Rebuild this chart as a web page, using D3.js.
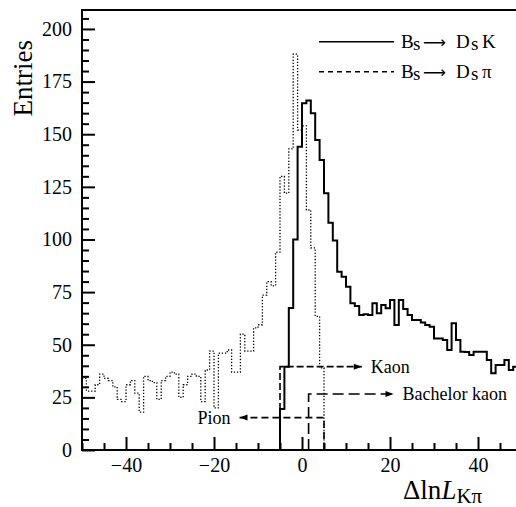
<!DOCTYPE html>
<html>
<head>
<meta charset="utf-8">
<script src="https://cdn.jsdelivr.net/npm/d3@7"></script>
<style>
  body { margin: 0; background: #fff; }
  svg text { font-family: "Liberation Serif", "Times New Roman", serif; fill: #000; }
</style>
</head>
<body>
<div id="my_dataviz"></div>
<script>
// bin width is 1 unit, each array starts at its first lower bin edge
var dsKStart = -5;
var dsKCounts = [19.5, 39.6, 67.4, 100, 144, 164.7, 166, 160, 147.3, 137.8,
  122, 108, 99.5, 84.7, 82.3, 77.6, 69.7, 68.4, 64.1, 64.5,
  64.1, 69.7, 64.9, 68.9, 67.3, 71.3, 59.4, 71.3, 67, 64.1,
  61.8, 61.8, 60.6, 59.4, 58.6, 53, 53, 52.3, 47.5, 60.2,
  52.3, 46.7, 46.5, 45.1, 46.7, 46.7, 46.7, 42.8, 36.4, 40.4,
  40.4, 42.8, 38, 39.6, 37];

var dsPiStart = -50;
var dsPiCounts = [34, 28, 28, 31, 36, 34, 33, 30, 24, 23,
  31, 33, 27, 18, 35, 33, 32, 24, 33, 35,
  37, 36, 25, 31, 35, 36, 35, 23, 38, 47,
  20, 46, 46, 47.5, 37, 37, 55, 47, 47, 58,
  59.5, 73.6, 80, 78, 94, 130, 122, 143, 188, 152,
  154, 114, 96, 63.5, 39];

var xMajor = [-40, -20, 0, 20, 40];
var yMajor = [0, 25, 50, 75, 100, 125, 150, 175, 200];

// selection cuts: where the cut sits, the level of the arrow, where the arrow ends
var cuts = [
  {label: "Kaon", cut: -5, level: 39.6, end: 13.6, dash: "7,3", dir: 1},
  {label: "Bachelor kaon", cut: 1.5, level: 26.6, end: 20.8, dash: "11,5", dir: 1},
  {label: "Pion", cut: 5, level: 15.4, end: -14.2, dash: "7,4", dir: -1}
];

var margin = {top: 10, left: 82, bottom: 57},
    width = 440,
    height = 507 - margin.top - margin.bottom;

var svg = d3.select("#my_dataviz")
  .append("svg")
    .attr("width", 516)
    .attr("height", 507);

var x = d3.scaleLinear().domain([-50, 50]).range([margin.left, margin.left + width]);
var y = d3.scaleLinear().domain([0, 209]).range([margin.top + height, margin.top]);

svg.append("clipPath").attr("id", "plotclip")
  .append("rect")
    .attr("x", margin.left).attr("y", margin.top)
    .attr("width", width).attr("height", height);

var plot = svg.append("g").attr("clip-path", "url(#plotclip)");

// turn counts into step points
function stepPoints(start, counts, closeRight) {
  var pts = [[start, 0]];
  counts.forEach(function(c, i) { pts.push([start + i, c]); });
  pts.push([start + counts.length, counts[counts.length - 1]]);
  if (closeRight) pts.push([start + counts.length, 0]);
  return pts;
}

var line = d3.line()
  .x(function(d) { return x(d[0]); })
  .y(function(d) { return y(d[1]); })
  .curve(d3.curveStepAfter);

// Ds pi, dotted
plot.append("path")
  .datum(stepPoints(dsPiStart, dsPiCounts, true).slice(1))
  .attr("d", line)
  .attr("fill", "none")
  .attr("stroke", "#000")
  .attr("stroke-width", 1.3)
  .attr("stroke-dasharray", "1.3,1.8");

// Ds K, solid
plot.append("path")
  .datum(stepPoints(dsKStart, dsKCounts, false))
  .attr("d", line)
  .attr("fill", "none")
  .attr("stroke", "#000")
  .attr("stroke-width", 2);

// cut arrows
cuts.forEach(function(c) {
  var g = plot.append("g");
  g.append("path")
    .attr("d", "M" + x(c.cut) + "," + y(0) + "V" + y(c.level) + "H" + x(c.end))
    .attr("fill", "none")
    .attr("stroke", "#000")
    .attr("stroke-width", 1.6)
    .attr("stroke-dasharray", c.dash);
  var tip = x(c.end);
  g.append("path")
    .attr("d", "M" + tip + "," + y(c.level) + "l" + (-8 * c.dir) + ",-3v6z")
    .attr("fill", "#000");
  g.append("text")
    .attr("x", tip + 9 * c.dir)
    .attr("y", y(c.level))
    .attr("dy", "0.33em")
    .attr("text-anchor", c.dir > 0 ? "start" : "end")
    .style("font-size", "18px")
    .text(c.label);
});

// axes, ticks inside
var yMinor = d3.range(0, 210, 5).filter(function(v) { return v % 25 !== 0; });
var xMinor = d3.range(-50, 51, 5).filter(function(v) { return v % 20 !== 0; });

svg.append("g")
  .attr("transform", "translate(" + margin.left + ",0)")
  .call(d3.axisLeft(y).tickValues(yMajor).tickSize(-13).tickPadding(10));
svg.append("g")
  .attr("transform", "translate(" + margin.left + ",0)")
  .call(d3.axisLeft(y).tickValues(yMinor).tickSize(-7).tickFormat(""));

svg.append("g")
  .attr("transform", "translate(0," + (margin.top + height) + ")")
  .call(d3.axisBottom(x).tickValues(xMajor).tickSize(-13).tickPadding(8));
svg.append("g")
  .attr("transform", "translate(0," + (margin.top + height) + ")")
  .call(d3.axisBottom(x).tickValues(xMinor).tickSize(-7).tickFormat(""));

svg.selectAll(".domain").remove();
svg.selectAll(".tick line").attr("stroke", "#000").attr("stroke-width", 2);
svg.selectAll(".tick text").style("font-size", "20px")
  .style("font-family", "'Liberation Serif', serif");

// frame
svg.append("path")
  .attr("d", "M516," + margin.top + "H" + margin.left + "V" + (margin.top + height) + "H516")
  .attr("fill", "none")
  .attr("stroke", "#000")
  .attr("stroke-width", 2);

// legend
var legend = [
  {dash: null, name: "K"},
  {dash: "5,4", name: "\u03c0"}
];
legend.forEach(function(l, i) {
  var ly = 41.7 + i * 30;
  svg.append("line")
    .attr("x1", 319).attr("x2", 394)
    .attr("y1", ly).attr("y2", ly)
    .attr("stroke", "#000")
    .attr("stroke-width", l.dash ? 1.4 : 1.6)
    .attr("stroke-dasharray", l.dash);
  var t = svg.append("text")
    .attr("y", ly + 5.8)
    .style("font-size", "19px");
  t.append("tspan").attr("x", 401).text("B");
  t.append("tspan").attr("x", 413).attr("dy", 2).text("s");
  t.append("tspan").attr("x", 423).attr("dy", -1.5)
    .style("font-family", "'DejaVu Sans'").style("font-size", "16px").text("\u27f6");
  t.append("tspan").attr("x", 456).attr("dy", -0.5).text("D");
  t.append("tspan").attr("x", 471).attr("dy", 2).text("s");
  t.append("tspan").attr("x", 482).attr("dy", -2).text(l.name);
});

// axis titles
svg.append("text")
  .attr("transform", "translate(32,40) rotate(-90)")
  .attr("text-anchor", "end")
  .style("font-size", "27px")
  .text("Entries");

var xt = svg.append("text")
  .attr("x", 403).attr("y", 499)
  .style("font-size", "27px");
xt.append("tspan").text("\u0394ln");
xt.append("tspan").style("font-style", "italic").text("L");
xt.append("tspan").style("font-size", "21px").attr("dy", 3.5).text("K\u03c0");
</script>
</body>
</html>
